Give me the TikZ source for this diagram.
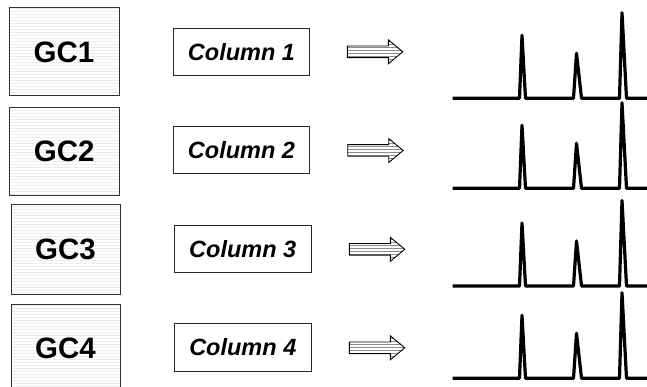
\documentclass[tikz,border=0pt]{standalone}
\usepackage{fontspec}
\setmainfont{Liberation Sans}
\usetikzlibrary{patterns}
\begin{document}
\begin{tikzpicture}[x=1pt,y=-1pt,
  gcbox/.style={draw=black!80, line width=1pt, pattern=horizontal lines, pattern color=black!7,
     inner sep=0pt, font=\bfseries\fontsize{29.5}{32}\selectfont},
  colbox/.style={draw=black!85, line width=1pt, fill=white, inner sep=0pt,
     font=\bfseries\itshape\fontsize{23.5}{26}\selectfont},
  barrow/.pic={
    \path[draw=black, line width=0.9pt, line join=miter, pattern=horizontal lines, pattern color=black!45]
      (0,-5.8) -- (41,-5.8) -- (41,-12) -- (55.5,0) -- (41,12) -- (41,5.8) -- (0,5.8) -- cycle;
  },
  chrom/.pic={
    \draw[line width=3.2pt, line join=round, line cap=butt]
      (452.5,0) -- (519.5,0) -- (522,-63) -- (525.5,0) -- (573.5,0) -- (576.5,-45) -- (581.5,0)
      -- (619.5,0) -- (622,-85.5) -- (626.5,0) -- (655,0);
  }]
\useasboundingbox (0,0) rectangle (647,387);
% GC boxes
\node[gcbox, minimum width=110pt, minimum height=88pt] (gc1) at (64,52) {GC1};
\node[gcbox, minimum width=110pt, minimum height=88pt] (gc2) at (64.2,151.2) {GC2};
\node[gcbox, minimum width=109pt, minimum height=89pt] (gc3) at (65.5,249.5) {GC3};
\node[gcbox, minimum width=109pt, minimum height=89pt] (gc4) at (65.5,348.5) {GC4};
% Column boxes
\node[colbox, minimum width=136.4pt, minimum height=47pt] (c1) at (241.5,51.8) {Column 1};
\node[colbox, minimum width=136.4pt, minimum height=47.3pt] (c2) at (241.5,150.3) {Column 2};
\node[colbox, minimum width=136.7pt, minimum height=47pt] (c3) at (242.7,249.2) {Column 3};
\node[colbox, minimum width=137pt, minimum height=47.7pt] (c4) at (242.8,347.2) {Column 4};
% block arrows
\pic (a1) at (347.3,51.8) {barrow};
\pic (a2) at (347.7,150.5) {barrow};
\pic (a3) at (349.3,249.3) {barrow};
\pic (a4) at (349.3,347.8) {barrow};
% chromatograms
\pic (ch1) at (0,98.3) {chrom};
\pic (ch2) at (0,188.3) {chrom};
\pic (ch3) at (0,286) {chrom};
\pic (ch4) at (0,378.3) {chrom};
\end{tikzpicture}
\end{document}
